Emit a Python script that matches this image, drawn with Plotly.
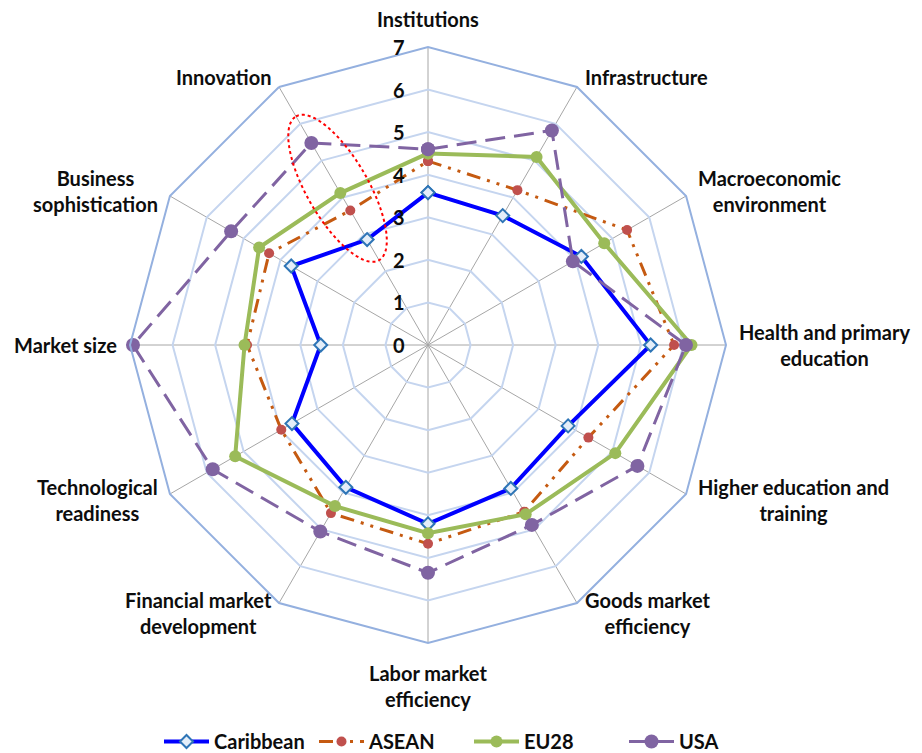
import numpy as np
import plotly.graph_objects as go

categories = [
    "Institutions", "Infrastructure", "Macroeconomic environment",
    "Health and primary education", "Higher education and training",
    "Goods market efficiency", "Labor market efficiency",
    "Financial market development", "Technological readiness",
    "Market size", "Business sophistication", "Innovation",
]
category_labels = [
    "Institutions", "Infrastructure", "Macroeconomic<br>environment",
    "Health and primary<br>education", "Higher education and<br>training",
    "Goods market<br>efficiency", "Labor market<br>efficiency",
    "Financial market<br>development", "Technological<br>readiness",
    "Market size", "Business<br>sophistication", "Innovation",
]
caribbean = [3.58, 3.51, 4.16, 5.23, 3.80, 3.89, 4.20, 3.86, 3.69, 2.52, 3.71, 2.86]
asean     = [4.32, 4.20, 5.40, 5.78, 4.35, 4.52, 4.67, 4.56, 3.98, 4.25, 4.31, 3.65]
eu28      = [4.50, 5.10, 4.78, 6.19, 5.08, 4.59, 4.42, 4.37, 5.23, 4.31, 4.58, 4.12]
usa       = [4.60, 5.82, 3.93, 6.06, 5.68, 4.88, 5.35, 5.06, 5.84, 6.93, 5.34, 5.48]
radial_ticks = [0, 1, 2, 3, 4, 5, 6, 7]
r_max = 7

# highlight ellipse around the Innovation spoke (in data units)
ell_index = 11
ell_center_r = 4.25
ell_semi_major = 1.95
ell_semi_minor = 0.72

# ---- layout geometry (screen pixels; page body has an 8px margin) ----
W, H = 922, 753
PAGE_PAD = 8
CX, CY, RAD = 428, 345, 298


def to_paper(px, py):
    return (px - PAGE_PAD) / W, 1 - (py - PAGE_PAD) / H


dom_x = [to_paper(CX - RAD, 0)[0], to_paper(CX + RAD, 0)[0]]
dom_y = [to_paper(0, CY + RAD)[1], to_paper(0, CY - RAD)[1]]

font_family = "Lato, 'Open Sans', sans-serif"
text_color = "#0d0d0d"


def closed(v):
    return list(v) + [v[0]]


cat_c = closed(categories)

fig = go.Figure()

fig.add_trace(go.Scatterpolar(
    r=closed(caribbean), theta=cat_c, name="Caribbean", mode="lines+markers",
    line=dict(color="#0000FF", width=4),
    marker=dict(symbol="diamond", size=10, color="#E4EEF9",
                line=dict(color="#2E75B6", width=2)),
))
fig.add_trace(go.Scatterpolar(
    r=closed(asean), theta=cat_c, name="ASEAN", mode="lines+markers",
    line=dict(color="#C55A11", width=3, dash="14px,7px,3px,7px,3px,7px"),
    marker=dict(symbol="circle", size=10, color="#C0504D"),
))
fig.add_trace(go.Scatterpolar(
    r=closed(eu28), theta=cat_c, name="EU28", mode="lines+markers",
    line=dict(color="#9BBB59", width=4),
    marker=dict(symbol="circle", size=12, color="#9BBB59"),
))
fig.add_trace(go.Scatterpolar(
    r=closed(usa), theta=cat_c, name="USA", mode="lines+markers",
    line=dict(color="#8064A2", width=3, dash="20px,9px"),
    marker=dict(symbol="circle", size=14, color="#8064A2"),
))

# dotted ellipse annotation on an overlaid linear polar
step = 360 / len(categories)
ang = np.deg2rad(ell_index * step)
u = np.array([np.sin(ang), np.cos(ang)])
v = np.array([np.cos(ang), -np.sin(ang)])
c = ell_center_r * u
phi = np.linspace(0, 2 * np.pi, 200)
pts = c[:, None] + ell_semi_major * np.cos(phi) * u[:, None] + ell_semi_minor * np.sin(phi) * v[:, None]
er = np.hypot(pts[0], pts[1])
et = np.degrees(np.arctan2(pts[0], pts[1])) % 360
fig.add_trace(go.Scatterpolar(
    r=er, theta=et, mode="lines", showlegend=False, hoverinfo="skip",
    line=dict(color="#FF0000", width=2, dash="dot"), subplot="polar2",
))

annotations = []
# category labels
for i, lab in enumerate(category_labels):
    a = np.deg2rad(i * step)
    s, co = np.sin(a), np.cos(a)
    vx, vy = CX + RAD * s, CY - RAD * co
    if i == 0:
        d, xa, ya = 14, "center", "bottom"
    elif i == 6:
        d, xa, ya = 16, "center", "top"
    else:
        d = 11
        xa = "left" if s > 0.1 else ("right" if s < -0.1 else "center")
        ya = "middle"
    px, py = vx + d * s, vy - d * co
    x, y = to_paper(px, py)
    annotations.append(dict(
        x=x, y=y, xref="paper", yref="paper", text=lab, showarrow=False,
        xanchor=xa, yanchor=ya, align="center",
        font=dict(family=font_family, size=20, color=text_color, weight="bold"),
    ))
# radial tick labels
unit = RAD / r_max
for t in radial_ticks:
    x, y = to_paper(CX - 29, CY - t * unit)
    annotations.append(dict(
        x=x, y=y, xref="paper", yref="paper", text=str(t), showarrow=False,
        xanchor="center", yanchor="middle",
        font=dict(family=font_family, size=20, color=text_color, weight="bold"),
    ))

fig.update_layout(
    width=W, height=H,
    paper_bgcolor="white", plot_bgcolor="white",
    margin=dict(l=0, r=0, t=0, b=0),
    font=dict(family=font_family, size=20, color=text_color),
    showlegend=True,
    legend=dict(orientation="h", x=0.5, xanchor="center", y=0.0, yanchor="bottom",
                font=dict(family=font_family, size=20, color=text_color, weight="bold"),
                itemwidth=45, entrywidth=95),
    annotations=annotations,
    polar=dict(
        domain=dict(x=dom_x, y=dom_y),
        bgcolor="white",
        gridshape="linear",
        angularaxis=dict(
            type="category", categoryarray=categories, rotation=90, direction="clockwise",
            showgrid=True, gridcolor="#A6A6A6", gridwidth=1,
            showline=True, linecolor="#94B0DF", linewidth=2,
            ticks="", showticklabels=False,
        ),
        radialaxis=dict(
            range=[0, r_max], tickmode="array", tickvals=radial_ticks,
            angle=90, showline=False, ticks="", showticklabels=False,
            showgrid=True, gridcolor="#C5D5EF", gridwidth=1.5,
        ),
    ),
    polar2=dict(
        domain=dict(x=dom_x, y=dom_y),
        bgcolor="rgba(0,0,0,0)",
        angularaxis=dict(rotation=90, direction="clockwise", thetaunit="degrees",
                         visible=False, showgrid=False, showline=False),
        radialaxis=dict(range=[0, r_max], visible=False, showgrid=False, showline=False),
    ),
)

fig.write_html("out.html")
